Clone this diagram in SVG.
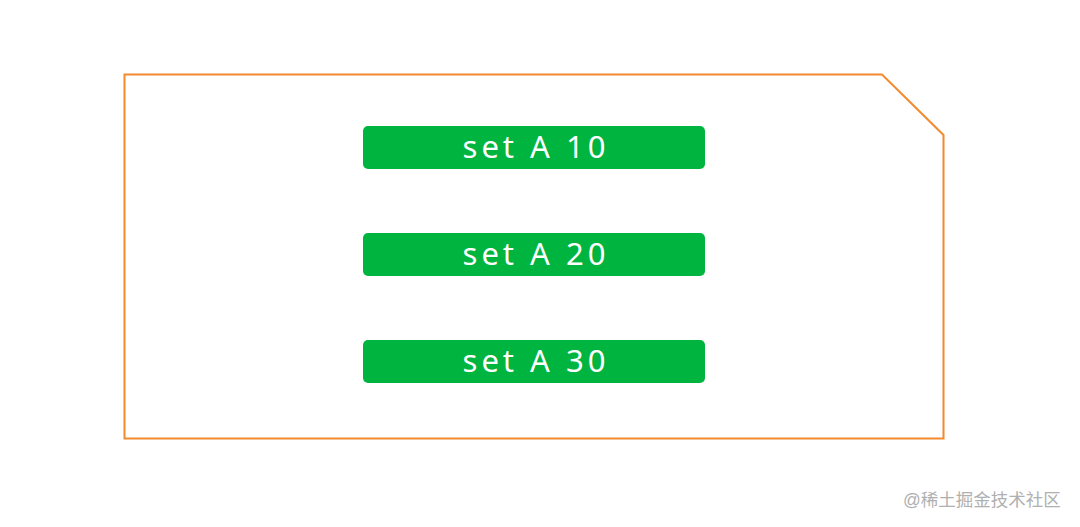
<svg xmlns="http://www.w3.org/2000/svg" width="1080" height="527" viewBox="0 0 1080 527">
<style>
.bar{fill:#00b440;}
.lbl{font-family:"Noto Sans","Liberation Sans",sans-serif;font-size:31px;letter-spacing:4px;fill:#ffffff;text-anchor:middle;}
.wm{font-family:"Liberation Sans","Noto Sans CJK SC",sans-serif;font-size:17.5px;fill:#b0b0b0;}
</style>
<rect width="1080" height="527" fill="#ffffff"/>
<g id="container">
<path d="M124.5 74.5 H882 L943.5 135 V438.5 H124.5 Z" fill="none" stroke="#f28a2e" stroke-width="2"/>
</g>
<g id="node-a10">
<rect class="bar" x="363" y="126" width="342" height="43" rx="5"/>
<text class="lbl" x="536" y="158">set A 10</text>
</g>
<g id="node-a20">
<rect class="bar" x="363" y="233" width="342" height="43" rx="5"/>
<text class="lbl" x="536" y="265">set A 20</text>
</g>
<g id="node-a30">
<rect class="bar" x="363" y="340" width="342" height="43" rx="5"/>
<text class="lbl" x="536" y="372">set A 30</text>
</g>
<g id="connectors"></g>
<text class="wm" x="903" y="506">@稀土掘金技术社区</text>
</svg>
